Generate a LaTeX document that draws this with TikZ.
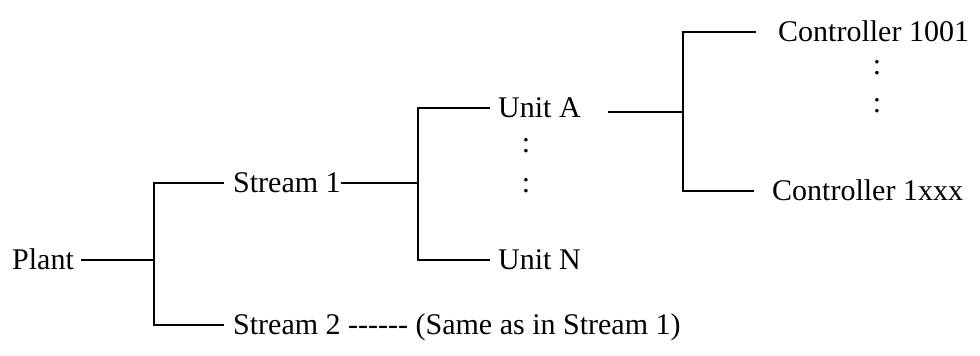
\documentclass[tikz,border=0pt]{standalone}
\usepackage{fontspec}
\setmainfont{Liberation Serif}
\usepackage{tikz}

\tikzset{
  lbl/.style={anchor=west, inner sep=0pt, text height=19pt, text depth=0pt,
    font=\fontsize{30}{36}\selectfont},
  vdot/.style={inner sep=0pt, font=\fontsize{30}{36}\selectfont},
  tree/.style={line width=1.2pt}
}

\begin{document}
\begin{tikzpicture}[x=1pt, y=-1pt]
  \useasboundingbox (0,0) rectangle (980,356);
  % labels
  \node[lbl] (plant) at (12,260) {Plant};
  \node[lbl] (s1) at (233,183) {Stream 1};
  \node[lbl] (s2) at (233,325) {Stream 2 -{}-{}-{}-{}-{}- (Same as in Stream 1)};
  \node[lbl] (ua) at (498,108) {Unit A};
  \node[lbl] (un) at (498,260) {Unit N};
  \node[lbl] (c1) at (778,32) {Controller 1001};
  \node[lbl] (cx) at (772,191) {Controller 1xxx};
  \node[vdot] (d1) at (526,146) {:};
  \node[vdot] (d2) at (526,186) {:};
  \node[vdot] (d3) at (877,68) {:};
  \node[vdot] (d4) at (877,106) {:};
  % branch points
  \coordinate (j1) at (154,260);
  \coordinate (j2) at (418,183);
  \coordinate (j3) at (683,112);
  % tree lines
  \draw[tree] ([xshift=7pt]plant.east) -- (j1);
  \draw[tree] ([xshift=-9pt]s1.west) -| (j1) |- ([xshift=-9pt]s2.west);
  \draw[tree] (s1.east) -- (j2);
  \draw[tree] ([xshift=-8pt]ua.west) -| (j2) |- ([xshift=-8pt]un.west);
  \draw[tree] ([xshift=27pt,yshift=-4pt]ua.east) -- (j3);
  \draw[tree] ([xshift=-22pt]c1.west) -| (j3) |- ([xshift=-18pt]cx.west);
\end{tikzpicture}
\end{document}
